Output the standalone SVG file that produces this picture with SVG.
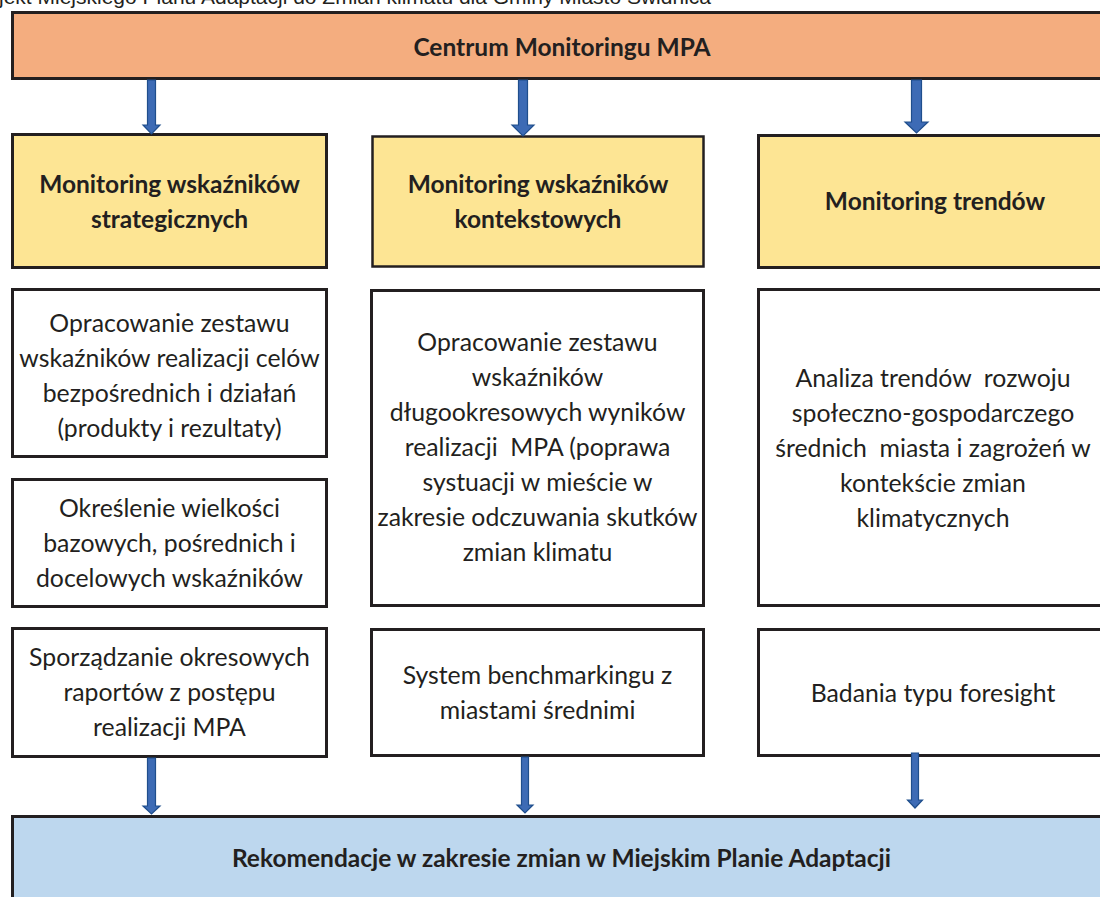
<svg xmlns="http://www.w3.org/2000/svg" width="1100" height="897" viewBox="0 0 1100 897">
<style>
.box{stroke:#231f20;stroke-width:3}
.hdr{fill:#f4ad7f}
.yel{fill:#fde594}
.wht{fill:#ffffff}
.blu{fill:#bdd7ee}
.t{font-family:Lato,"Open Sans",sans-serif;fill:#231f20;text-anchor:middle}
.b{font-size:24.5px;font-weight:bold}
.r{font-size:24.8px}
.arr{fill:#3d6bb5;stroke:#1f4e8c;stroke-width:1.2}
.page{font-family:"Liberation Sans",Arial,sans-serif;font-size:21px;fill:#231f20;text-anchor:end}
</style>
<rect width="1100" height="897" fill="#ffffff"/>
<text class="page" x="711" y="4">Projekt Miejskiego Planu Adaptacji do Zmian klimatu dla Gminy Miasto Świdnica</text>

<g id="centrum">
<rect class="box hdr" x="12.5" y="12.5" width="1100" height="66"/>
<text class="t b" x="562" y="56">Centrum Monitoringu MPA</text>
</g>

<g id="strategiczne">
<rect class="box yel" x="12.5" y="134.5" width="314" height="133"/>
<text class="t b" x="169.5" y="193">Monitoring wskaźników</text>
<text class="t b" x="169.5" y="228">strategicznych</text>
</g>
<g id="kontekstowe">
<rect class="box yel" x="372.5" y="136.5" width="331" height="130" style="stroke-width:2.5"/>
<text class="t b" x="538" y="193">Monitoring wskaźników</text>
<text class="t b" x="538" y="228">kontekstowych</text>
</g>
<g id="trendy">
<rect class="box yel" x="758.5" y="135.5" width="360" height="132"/>
<text class="t b" x="935" y="210">Monitoring trendów</text>
</g>

<g id="opracowanie-strat">
<rect class="box wht" x="12.5" y="289.5" width="314" height="167"/>
<text class="t r" x="169.5" y="332">Opracowanie zestawu</text>
<text class="t r" x="169.5" y="367">wskaźników realizacji celów</text>
<text class="t r" x="169.5" y="402">bezpośrednich i działań</text>
<text class="t r" x="169.5" y="437">(produkty i rezultaty)</text>
</g>
<g id="okreslenie">
<rect class="box wht" x="12.5" y="479.5" width="314" height="127"/>
<text class="t r" x="169.5" y="517">Określenie wielkości</text>
<text class="t r" x="169.5" y="552">bazowych, pośrednich i</text>
<text class="t r" x="169.5" y="587">docelowych wskaźników</text>
</g>
<g id="raporty">
<rect class="box wht" x="12.5" y="628.5" width="314" height="128"/>
<text class="t r" x="169.5" y="666">Sporządzanie okresowych</text>
<text class="t r" x="169.5" y="701">raportów z postępu</text>
<text class="t r" x="169.5" y="736">realizacji MPA</text>
</g>

<g id="opracowanie-kont">
<rect class="box wht" x="371.5" y="290.5" width="332" height="315"/>
<text class="t r" x="537.5" y="351">Opracowanie zestawu</text>
<text class="t r" x="537.5" y="386">wskaźników</text>
<text class="t r" x="537.5" y="421">długookresowych wyników</text>
<text class="t r" x="537.5" y="456" xml:space="preserve">realizacji  MPA (poprawa</text>
<text class="t r" x="537.5" y="491">systuacji w mieście w</text>
<text class="t r" x="537.5" y="526">zakresie odczuwania skutków</text>
<text class="t r" x="537.5" y="561">zmian klimatu</text>
</g>
<g id="benchmarking">
<rect class="box wht" x="371.5" y="629.5" width="332" height="126"/>
<text class="t r" x="537.5" y="684">System benchmarkingu z</text>
<text class="t r" x="537.5" y="719">miastami średnimi</text>
</g>

<g id="analiza">
<rect class="box wht" x="758.5" y="289.5" width="360" height="316"/>
<text class="t r" x="933" y="387" xml:space="preserve">Analiza trendów  rozwoju</text>
<text class="t r" x="933" y="422">społeczno-gospodarczego</text>
<text class="t r" x="933" y="457" xml:space="preserve">średnich  miasta i zagrożeń w</text>
<text class="t r" x="933" y="492">kontekście zmian</text>
<text class="t r" x="933" y="527">klimatycznych</text>
</g>
<g id="foresight">
<rect class="box wht" x="758.5" y="629.5" width="360" height="126"/>
<text class="t r" x="933" y="702">Badania typu foresight</text>
</g>

<g id="rekomendacje">
<rect class="box blu" x="12.5" y="816.5" width="1100" height="100"/>
<text class="t b" x="561.5" y="867">Rekomendacje w zakresie zmian w Miejskim Planie Adaptacji</text>
</g>

<g id="connectors">
<path class="arr" d="M147.5,80 H155.5 V125 H160 L151.5,134 L143,125 H147.5 Z"/>
<path class="arr" d="M518.5,80 H527.5 V125 H534 L523,136 L512,125 H518.5 Z"/>
<path class="arr" d="M911.5,80 H921.5 V122 H928 L916.5,133 L905,122 H911.5 Z"/>
<path class="arr" d="M147.5,758 H155.5 V806 H160 L151.5,814 L143,806 H147.5 Z"/>
<path class="arr" d="M521.5,757 H528.5 V805 H533 L525,813 L517,805 H521.5 Z"/>
<path class="arr" d="M911.5,753 H918.5 V800 H922.5 L915,808 L907.5,800 H911.5 Z"/>
</g>
</svg>
